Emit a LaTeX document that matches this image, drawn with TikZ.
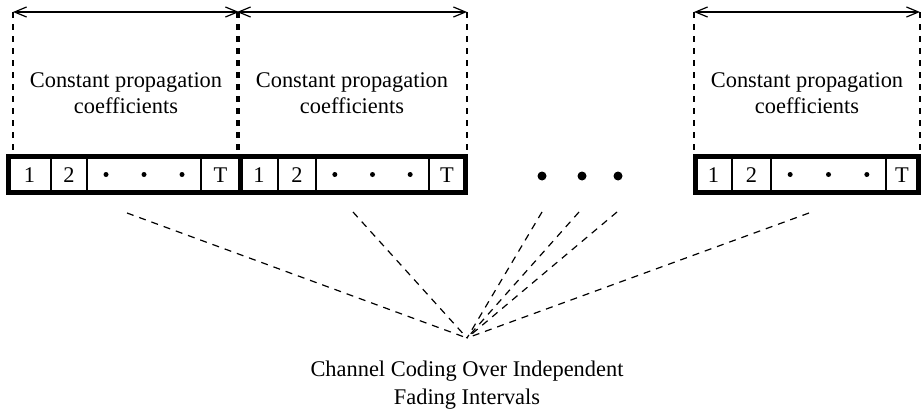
\documentclass[tikz,border=0pt]{standalone}
\usepackage{fontspec}
\setmainfont{Liberation Serif}
\usetikzlibrary{arrows.meta}

\begin{document}
\begin{tikzpicture}[
  x = 0.5pt, y = -0.5pt,
  every node/.style = {font = \fontsize{11.2}{13}\selectfont, inner sep = 0pt},
  frame/.style = {draw, line width = 2.5pt},
  cell/.style = {draw, line width = 0.6pt},
  guide/.style = {draw, line width = 0.6pt, dash pattern = on 3pt off 3pt},
  span/.style = {draw, line width = 0.6pt,
    {Straight Barb[length = 6pt, width = 5pt]}-{Straight Barb[length = 6pt, width = 5pt]}},
  fan/.style = {draw, line width = 0.6pt, dash pattern = on 3.5pt off 3pt},
  celldot/.style = {circle, fill, minimum size = 2.5pt},
  bigdot/.style = {circle, fill, minimum size = 4.5pt},
  ]
  \useasboundingbox (0,0) rectangle (924,412);

  \foreach \i/\l/\a/\b/\c/\r/\gl/\gr in {1/8/51/87/201/240/13/239,
                                        2/240/278/316/429/465/237/467,
                                        3/695/732/771/886/918/694/920} {
    \draw[cell] (\a,156.5) -- (\a,192.5) (\b,156.5) -- (\b,192.5) (\c,156.5) -- (\c,192.5);
    \draw[frame] (\l,156.5) rectangle (\r,192.5);
    \node (one\i) at ({(\l+\a)/2},175) {1};
    \node (two\i) at ({(\a+\b)/2},175) {2};
    \node (last\i) at ({(\c+\r)/2},175) {T};
    \foreach \k in {1,3,5}
      \node[celldot] (dot\i\k) at ({\b+(\c-\b)*\k/6},174.5) {};
    \coordinate (gl\i) at (\gl,12);
    \coordinate (gr\i) at (\gr,12);
    \coordinate (bl\i) at (\gl,155);
    \coordinate (br\i) at (\gr,155);
    \draw[guide] (gl\i) -- (bl\i);
    \draw[guide] (gr\i) -- (br\i);
    \draw[span] (gl\i) -- (gr\i);
    \node[align = center] (coef\i) at ({(\gl+\gr)/2},93) {Constant propagation\\coefficients};
  }

  \foreach \x [count=\k] in {542,582,618}
    \node[bigdot] (gap\k) at (\x,176) {};

  \coordinate (hub) at (467,338);
  \foreach \x/\y [count=\k] in {127/213, 353/212, 542/212, 579/212, 617/212, 809/213} {
    \coordinate (src\k) at (\x,\y);
    \draw[fan] (src\k) -- (hub);
  }

  \node[align = center, font = \fontsize{11.2}{14}\selectfont] (coding) at (467,385)
    {Channel Coding Over Independent\\Fading Intervals};
\end{tikzpicture}
\end{document}
